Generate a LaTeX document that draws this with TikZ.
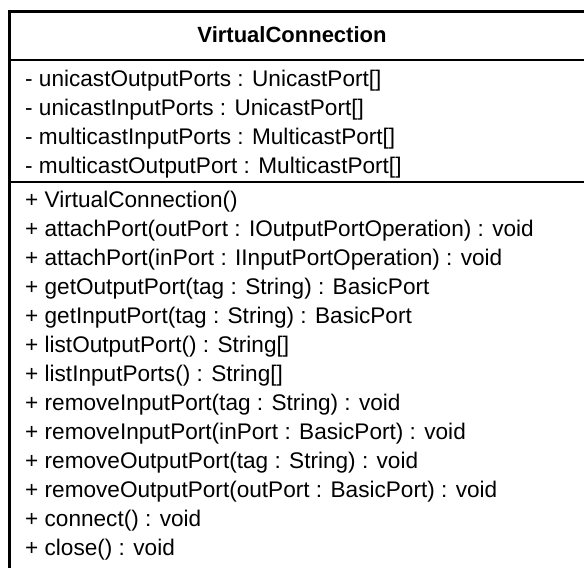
\documentclass[tikz,border=0pt]{standalone}
\usepackage{fontspec}
\setmainfont{Liberation Sans}
\begin{document}
\begin{tikzpicture}[x=1pt,y=-1pt,
  member/.style={anchor=base west, inner sep=0pt, font=\fontsize{22.6}{26}\selectfont},
  classname/.style={anchor=base, inner sep=0pt, font=\fontsize{22}{26}\selectfont\bfseries},
  frame/.style={line width=3.2pt, black},
  divider/.style={line width=2pt, black}]
\useasboundingbox (0,0) rectangle (584,568);
\fill[white] (0,0) rectangle (584,568);

% class box: left and top edges, compartment dividers
\draw[frame] (9.5,568) -- (9.5,11.5) -- (584,11.5);
\draw[divider] (9.5,60) -- (584,60);
\draw[divider] (9.5,182) -- (584,182);

% class name
\node[classname] (name) at (292,42) {VirtualConnection};

% attributes
\def\ax{25}
\node[member] (a1) at (\ax,86)  {- unicastOutputPorts : UnicastPort[]};
\node[member] (a2) at (\ax,115) {- unicastInputPorts : UnicastPort[]};
\node[member] (a3) at (\ax,144) {- multicastInputPorts : MulticastPort[]};
\node[member] (a4) at (\ax,173) {- multicastOutputPort : MulticastPort[]};

% operations
\node[member] (m1)  at (\ax,207) {+ VirtualConnection()};
\node[member] (m2)  at (\ax,236) {+ attachPort(outPort : IOutputPortOperation) : void};
\node[member] (m3)  at (\ax,265) {+ attachPort(inPort : IInputPortOperation) : void};
\node[member] (m4)  at (\ax,294) {+ getOutputPort(tag : String) : BasicPort};
\node[member] (m5)  at (\ax,323) {+ getInputPort(tag : String) : BasicPort};
\node[member] (m6)  at (\ax,352) {+ listOutputPort() : String[]};
\node[member] (m7)  at (\ax,381) {+ listInputPorts() : String[]};
\node[member] (m8)  at (\ax,410) {+ removeInputPort(tag : String) : void};
\node[member] (m9)  at (\ax,439) {+ removeInputPort(inPort : BasicPort) : void};
\node[member] (m10) at (\ax,468) {+ removeOutputPort(tag : String) : void};
\node[member] (m11) at (\ax,497) {+ removeOutputPort(outPort : BasicPort) : void};
\node[member] (m12) at (\ax,526) {+ connect() : void};
\node[member] (m13) at (\ax,555) {+ close() : void};
\end{tikzpicture}
\end{document}
